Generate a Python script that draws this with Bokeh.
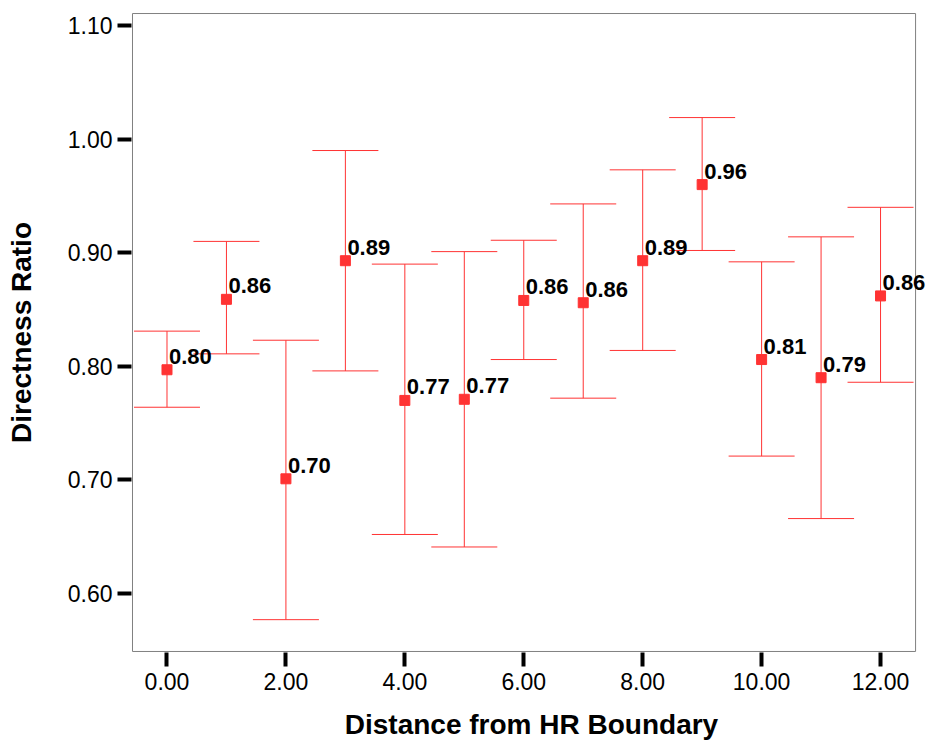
from bokeh.plotting import figure
from bokeh.models import (ColumnDataSource, Range1d, FixedTicker, PrintfTickFormatter, Whisker,
                          TeeHead, LabelSet, BoxAnnotation)
from bokeh.core.properties import value
from bokeh.embed import file_html
from bokeh.resources import INLINE

# Data
distance = [0, 1, 2, 3, 4, 5, 6, 7, 8, 9, 10, 11, 12]
mean_ratio = [0.797, 0.859, 0.701, 0.893, 0.770, 0.771, 0.858, 0.856, 0.893, 0.960, 0.806, 0.790, 0.862]
ci_upper = [0.831, 0.910, 0.823, 0.990, 0.890, 0.901, 0.911, 0.943, 0.973, 1.019, 0.892, 0.914, 0.940]
ci_lower = [0.764, 0.811, 0.577, 0.796, 0.652, 0.641, 0.806, 0.772, 0.814, 0.902, 0.721, 0.666, 0.786]
x_ticks = [0, 2, 4, 6, 8, 10, 12]
y_ticks = [0.60, 0.70, 0.80, 0.90, 1.00, 1.10]

# visible plot box (data units)
box_left, box_right, box_bottom, box_top = -0.580, 12.589, 0.549, 1.1106

labels = ["%.2f" % v for v in mean_ratio]
src = ColumnDataSource(dict(x=distance, y=mean_ratio, upper=ci_upper, lower=ci_lower, label=labels))

RED = "#ff3333"
GRAY = "#808080"
FONT = "Liberation Sans"

p = figure(width=931, height=744, output_backend="svg", toolbar_location=None,
           x_range=Range1d(-0.5968, 12.857), y_range=Range1d(0.5481, 1.1115),
           min_border_left=131, min_border_right=0, min_border_top=12, min_border_bottom=92)
p.background_fill_color = "white"
p.border_fill_color = "white"
p.outline_line_color = None
p.xgrid.visible = False
p.ygrid.visible = False

frame_box = BoxAnnotation(left=box_left, right=box_right, bottom=box_bottom, top=box_top,
                          fill_color=None, fill_alpha=0, line_color=GRAY, line_alpha=1.0,
                          line_width=1)
p.add_layout(frame_box)

w = Whisker(base="x", upper="upper", lower="lower", source=src, line_color=RED, line_width=1,
            upper_head=TeeHead(size=66, line_color=RED, line_width=1),
            lower_head=TeeHead(size=66, line_color=RED, line_width=1))
p.add_layout(w)

p.scatter("x", "y", source=src, marker="square", size=10, fill_color=RED, line_color=RED)
lbl = LabelSet(x="x", y="y", text="label", source=src, x_offset=2, y_offset=6,
               text_font=value(FONT), text_font_style="bold", text_font_size="22px",
               text_color="black", text_baseline="alphabetic", text_align="left")
p.add_layout(lbl)

for ax, ticks in ((p.xaxis[0], x_ticks), (p.yaxis[0], y_ticks)):
    ax.ticker = FixedTicker(ticks=ticks)
    ax.formatter = PrintfTickFormatter(format="%.2f")
    ax.minor_tick_line_color = None
    ax.major_tick_in = 0
    ax.major_tick_out = 14
    ax.major_tick_line_width = 4
    ax.major_tick_line_color = "black"
    ax.axis_line_color = None
    ax.major_label_text_font = FONT
    ax.major_label_text_font_size = "23px"
    ax.major_label_text_color = "black"
    ax.axis_label_text_font = FONT
    ax.axis_label_text_font_style = "bold"
    ax.axis_label_text_font_size = "28px"
    ax.axis_label_text_color = "black"

p.xaxis.axis_label = "Distance from HR Boundary"
p.yaxis.axis_label = "Directness Ratio"
p.xaxis.major_label_standoff = 6
p.yaxis.major_label_standoff = 5
p.xaxis.axis_label_standoff = 16
p.yaxis.axis_label_standoff = 28

open("out.html", "w").write(file_html(p, INLINE))
